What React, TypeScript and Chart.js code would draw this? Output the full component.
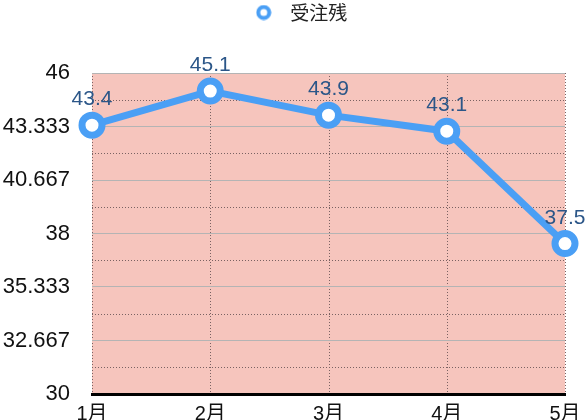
import React, { useEffect, useRef } from 'react';
import { Chart, registerables } from 'chart.js';

Chart.register(...registerables);

const categories = ['1月', '2月', '3月', '4月', '5月'];
const backlogValues = [43.4, 45.1, 43.9, 43.1, 37.5];
const seriesName = '受注残';
const yMin = 30;
const yMax = 46;
const yTickLabels = ['30', '32.667', '35.333', '38', '40.667', '43.333', '46'];

const LATIN = "'Liberation Sans', Arial, 'Noto Sans CJK JP', sans-serif";
const CJK = "'Noto Sans CJK JP', 'Liberation Sans', sans-serif";
const BLUE = '#4a9ff5';
const PINK = '#f6c5bd';
const DOT = '#7a6262';

function makeLegendIcon(): HTMLCanvasElement {
  const c = document.createElement('canvas');
  c.width = 16;
  c.height = 16;
  const g = c.getContext('2d')!;
  g.beginPath();
  g.arc(8, 8, 5.5, 0, Math.PI * 2);
  g.fillStyle = '#ffffff';
  g.fill();
  g.lineWidth = 4;
  g.strokeStyle = BLUE;
  g.stroke();
  return c;
}

const backgroundPlugin = {
  id: 'bgAndMinor',
  beforeInit(chart: any) {
    const legend = chart.legend;
    if (legend) {
      const orig = legend.fit;
      legend.fit = function () {
        orig.call(this);
        this.height += 41;
        if (this.lineWidths && this.lineWidths.length) {
          this.lineWidths = this.lineWidths.map((w: number) => w - 6);
        }
      };
    }
  },
  beforeDraw(chart: any) {
    const { ctx, chartArea } = chart;
    const { left, right, top, bottom } = chartArea;
    ctx.save();
    ctx.fillStyle = PINK;
    ctx.fillRect(left, top, right - left, bottom - top);
    ctx.strokeStyle = DOT;
    ctx.lineWidth = 1;
    ctx.setLineDash([1, 2]);
    const ys = chart.scales.y;
    const xs = chart.scales.x;
    const step = (yMax - yMin) / (yTickLabels.length - 1);
    for (let i = 0; i < yTickLabels.length - 1; i++) {
      const v = yMin + step * (i + 0.5);
      const py = Math.round(ys.getPixelForValue(v)) + 0.5;
      ctx.beginPath();
      ctx.moveTo(left, py);
      ctx.lineTo(right, py);
      ctx.stroke();
    }
    for (let i = 0; i < categories.length; i++) {
      const px = Math.round(xs.getPixelForValue(i)) + 0.5;
      ctx.beginPath();
      ctx.moveTo(px, top);
      ctx.lineTo(px, bottom);
      ctx.stroke();
    }
    ctx.restore();
  },
};

const labelPlugin = {
  id: 'valueLabels',
  afterDatasetsDraw(chart: any) {
    const { ctx } = chart;
    const meta = chart.getDatasetMeta(0);
    ctx.save();
    ctx.font = `21px ${LATIN}`;
    ctx.fillStyle = '#2b5688';
    ctx.textAlign = 'center';
    ctx.textBaseline = 'alphabetic';
    meta.data.forEach((pt: any, i: number) => {
      ctx.fillText(String(backlogValues[i]), pt.x, pt.y - 20);
    });
    ctx.restore();
  },
};

export default function App() {
  const ref = useRef<HTMLCanvasElement | null>(null);
  useEffect(() => {
    if (!ref.current) return;
    const icon = makeLegendIcon();
    const chart = new Chart(ref.current, {
      type: 'line',
      data: {
        labels: categories,
        datasets: [
          {
            label: seriesName,
            data: backlogValues,
            borderColor: BLUE,
            backgroundColor: '#ffffff',
            borderWidth: 7,
            pointRadius: 10,
            pointHoverRadius: 10,
            pointBorderWidth: 7,
            pointBackgroundColor: '#ffffff',
            pointBorderColor: BLUE,
            tension: 0,
            clip: false as any,
          },
        ],
      },
      options: {
        animation: false,
        responsive: true,
        maintainAspectRatio: false,
        layout: { padding: { left: 0, right: 0, top: 0, bottom: 0 } },
        plugins: {
          tooltip: { enabled: false },
          legend: {
            display: true,
            position: 'top',
            labels: {
              usePointStyle: true,
              pointStyleWidth: 34,
              boxHeight: 16,
              padding: 3,
              color: '#222222',
              font: { family: CJK, size: 19 },
              generateLabels: (c: any) =>
                (Chart.defaults.plugins.legend.labels as any)
                  .generateLabels(c)
                  .map((l: any) => ({ ...l, pointStyle: icon })),
            },
          },
        },
        scales: {
          x: {
            offset: false,
            grid: { display: false, drawTicks: false },
            border: { display: true, color: '#000000', width: 3 },
            ticks: {
              color: '#111111',
              font: { family: LATIN, size: 20 },
              padding: 8,
              maxRotation: 0,
              autoSkip: false,
            },
            afterFit: (scale: any) => {
              scale.height = 26;
              scale.paddingRight = 23;
            },
          },
          y: {
            min: yMin,
            max: yMax,
            afterBuildTicks: (scale: any) => {
              const step = (yMax - yMin) / (yTickLabels.length - 1);
              scale.ticks = yTickLabels.map((_, i) => ({ value: yMin + i * step }));
            },
            afterFit: (scale: any) => {
              scale.width = 92;
              scale.paddingTop = 0;
              scale.paddingBottom = 0;
            },
            grid: { color: '#b4b4b4', lineWidth: 1, drawTicks: false },
            border: { display: false },
            ticks: {
              color: '#111111',
              font: { family: LATIN, size: 22 },
              padding: 22,
              callback: (_v: any, i: number) => yTickLabels[i],
            },
          },
        },
      },
      plugins: [backgroundPlugin, labelPlugin],
    });
    return () => chart.destroy();
  }, []);
  return (
    <div style={{ position: 'fixed', left: 0, top: 0, width: 588, height: 420, background: '#ffffff' }}>
      <canvas ref={ref} />
    </div>
  );
}
